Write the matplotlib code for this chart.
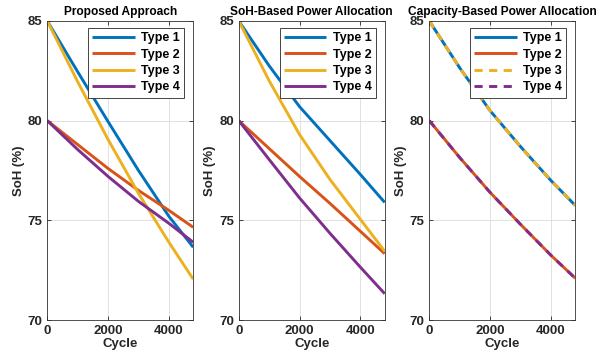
import matplotlib
matplotlib.use("Agg")
import matplotlib.pyplot as plt

plt.rcParams['font.family'] = ['Liberation Sans', 'DejaVu Sans']
plt.rcParams['font.weight'] = 'bold'

cycles = [0, 1000, 2000, 3000, 4000, 4800]

# Proposed Approach
prop_t1 = [85.0, 82.45, 79.95, 77.5, 75.2, 73.65]
prop_t2 = [80.0, 78.8, 77.6, 76.5, 75.5, 74.65]
prop_t3 = [85.0, 81.95, 79.05, 76.35, 73.9, 72.05]
prop_t4 = [80.0, 78.55, 77.2, 75.95, 74.85, 73.9]

# SoH-Based Power Allocation
soh_t1 = [85.0, 82.75, 80.7, 79.0, 77.3, 75.9]
soh_t2 = [80.0, 78.6, 77.2, 75.85, 74.45, 73.33]
soh_t3 = [85.0, 82.0, 79.3, 77.05, 75.05, 73.45]
soh_t4 = [80.0, 78.05, 76.12, 74.35, 72.65, 71.32]

# Capacity-Based Power Allocation
cap_t1 = [85.0, 82.65, 80.5, 78.7, 77.0, 75.75]
cap_t2 = [80.0, 78.15, 76.4, 74.8, 73.25, 72.1]
cap_t3 = cap_t1
cap_t4 = cap_t2

titles = ["Proposed Approach", "SoH-Based Power Allocation", "Capacity-Based Power Allocation"]
labels = ["Type 1", "Type 2", "Type 3", "Type 4"]
colors = ["#0072BD", "#D95319", "#EDB120", "#7E2F8E"]
xticks = [0, 2000, 4000]
yticks = [70, 75, 80, 85]

panels = [
    [prop_t1, prop_t2, prop_t3, prop_t4],
    [soh_t1, soh_t2, soh_t3, soh_t4],
    [cap_t1, cap_t2, cap_t3, cap_t4],
]
styles = [
    ['-', '-', '-', '-'],
    ['-', '-', '-', '-'],
    ['-', '-', (0, (2.8, 2.2)), (0, (2.8, 2.2))],
]

fig = plt.figure(figsize=(5.98, 3.54), dpi=100)
lefts = [0.0791, 0.3993, 0.7179]
axcol = '#262626'
for i in range(3):
    ax = fig.add_axes([lefts[i], 0.096, 0.244, 0.8447])
    for j in range(4):
        ax.plot(cycles, panels[i][j], color=colors[j], lw=2.1, ls=styles[i][j],
                label=labels[j], solid_capstyle='butt', dash_capstyle='butt',
                solid_joinstyle='round')
    ax.set_xlim(0, 4800)
    ax.set_ylim(70, 85)
    ax.set_xticks(xticks)
    ax.set_yticks(yticks)
    ax.tick_params(direction='in', top=True, right=True, labelsize=9.5,
                   colors=axcol, length=3, width=0.6)
    for lab in ax.get_xticklabels() + ax.get_yticklabels():
        lab.set_fontweight('bold')
    for s in ax.spines.values():
        s.set_color('#333333')
        s.set_linewidth(0.6)
    ax.grid(True, color='#dcdcdc', lw=0.6)
    ax.set_axisbelow(True)
    ax.set_title(titles[i], fontsize=8.6, fontweight='bold', pad=4, color='black')
    ax.set_xlabel("Cycle", fontsize=9.5, fontweight='bold', labelpad=1, color=axcol)
    ax.set_ylabel("SoH (%)", fontsize=9.5, fontweight='bold', labelpad=2, color=axcol)
    leg = ax.legend(loc='upper right', bbox_to_anchor=(0.94, 0.977), borderaxespad=0,
                    fancybox=False, framealpha=1, edgecolor='#262626',
                    prop={'size': 9, 'weight': 'bold'}, handlelength=3.4,
                    labelspacing=0.35, handletextpad=0.5, borderpad=0.35)
    leg.get_frame().set_linewidth(0.6)

fig.savefig("out.png", dpi=100)
